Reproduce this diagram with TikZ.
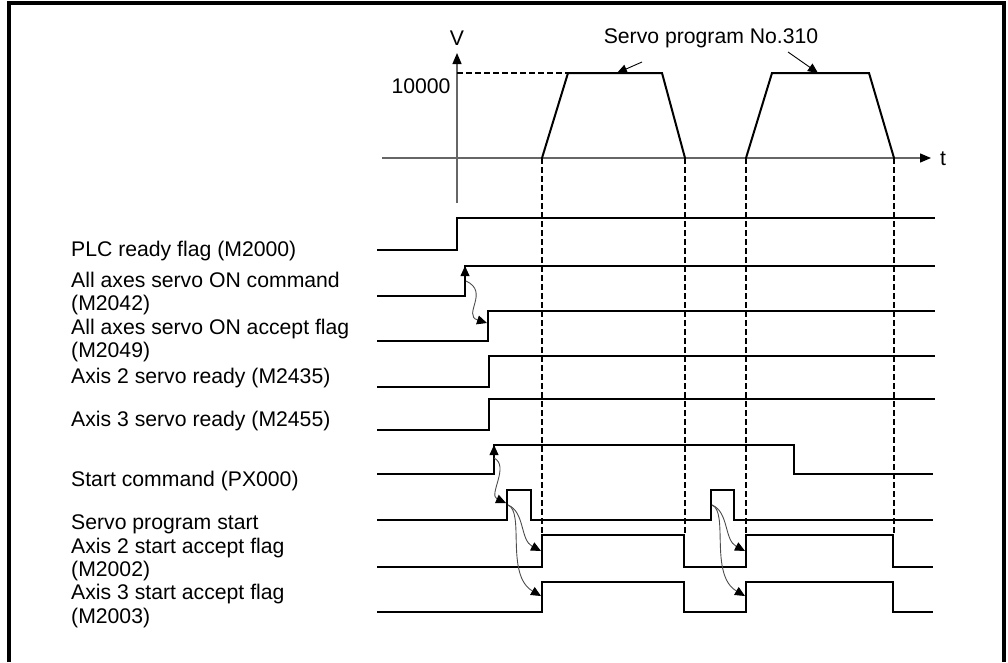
\documentclass[tikz,border=0pt]{standalone}
\usepackage{fontspec}
\setmainfont{Liberation Sans}
\usetikzlibrary{arrows.meta}
\begin{document}
\begin{tikzpicture}[x=1pt,y=-1pt,
  lbl/.style={anchor=base west, inner sep=0pt, font=\fontsize{21.2}{24}\selectfont},
  txt/.style={anchor=base, inner sep=0pt, font=\fontsize{21.2}{24}\selectfont},
  sig/.style={line width=2pt, line join=miter, line cap=butt},
  ax/.style={line width=1.3pt, black!60},
  guide/.style={line width=1.1pt, dash pattern=on 6pt off 3pt},
  profile/.style={line width=2pt, line join=miter},
  tipup/.style={line width=0.8pt, -{Triangle[length=10pt,width=9pt,color=black]}},
  cause/.style={line width=0.9pt, black!70, -{Triangle[length=10pt,width=9pt,color=black]}},
  pointer/.style={line width=0.9pt, -{Triangle[length=10pt,width=9pt]}},
  axarrow/.style={-{Triangle[length=11pt,width=9pt,color=black]}},
  frame/.style={line width=4pt, line join=miter}]
\useasboundingbox (0,0) rectangle (1008,662);
% frame (open at the bottom)
\draw[frame] (9,662) -- (9,3) -- (1004,3) -- (1004,662);

% axes
\coordinate (vbot) at (457,203);
\coordinate (vtop) at (457,53);
\coordinate (tleft) at (382,158);
\coordinate (tright) at (931,158);
\draw[ax,axarrow] (vbot) -- (vtop);
\draw[ax,axarrow] (tleft) -- (tright);
\node[txt] (vlab) at (457,45) {V};
\node[txt] (tlab) at (943,165) {t};
\node[txt] (vmax) at (421,93) {10000};

% speed profiles
\draw[guide] (457,73) -- (568,73);
\draw[profile] (542,158) -- (568,73) -- (662,73) -- (685,158);
\draw[profile] (746,158) -- (772,73) -- (869,73) -- (894,158);
\node[txt] (prog) at (711,43.5) {Servo program No.310};
\coordinate (p1s) at (642,62);
\coordinate (p1e) at (617,73);
\coordinate (p2s) at (788,52);
\coordinate (p2e) at (818,73);
\draw[pointer] (p1s) -- (p1e);
\draw[pointer] (p2s) -- (p2e);

% guide lines
\foreach \gx in {542,685,746,894} \draw[guide] (\gx,158) -- (\gx,535);

% labels
\node[lbl] (l1) at (71,256) {PLC ready flag (M2000)};
\node[lbl] (l2a) at (71,287) {All axes servo ON command};
\node[lbl] (l2b) at (71,310) {(M2042)};
\node[lbl] (l3a) at (71,334) {All axes servo ON accept flag};
\node[lbl] (l3b) at (71,357) {(M2049)};
\node[lbl] (l4) at (71,383) {Axis 2 servo ready (M2435)};
\node[lbl] (l5) at (71,426) {Axis 3 servo ready (M2455)};
\node[lbl] (l6) at (71,486) {Start command (PX000)};
\node[lbl] (l7) at (71,529) {Servo program start};
\node[lbl] (l8a) at (71,553) {Axis 2 start accept flag};
\node[lbl] (l8b) at (71,576) {(M2002)};
\node[lbl] (l9a) at (71,599) {Axis 3 start accept flag};
\node[lbl] (l9b) at (71,623) {(M2003)};

% signals
\draw[sig] (377,250) -- (457,250) -- (457,218) -- (935,218);
\draw[sig] (377,296) -- (465,296) -- (465,266) -- (935,266);
\draw[sig] (377,341) -- (488,341) -- (488,311) -- (935,311);
\draw[sig] (377,387) -- (489,387) -- (489,356) -- (935,356);
\draw[sig] (377,430) -- (489,430) -- (489,399) -- (935,399);
\draw[sig] (377,474) -- (494,474) -- (494,445) -- (794,445) -- (794,474) -- (933,474);
\draw[sig] (377,520) -- (507,520) -- (507,490) -- (531,490) -- (531,520) -- (711,520)
           -- (711,490) -- (734,490) -- (734,520) -- (933,520);
\draw[sig] (377,567) -- (542,567) -- (542,535) -- (684,535) -- (684,567) -- (746,567)
           -- (746,535) -- (893,535) -- (893,567) -- (933,567);
\draw[sig] (377,612) -- (542,612) -- (542,582) -- (684,582) -- (684,612) -- (746,612)
           -- (746,582) -- (893,582) -- (893,612) -- (933,612);

% cause arrows
\coordinate (sonb) at (465,284);
\coordinate (sont) at (465,266);
\coordinate (sons) at (466,281);
\coordinate (acce) at (487,323);
\draw[tipup] (sonb) -- (sont);
\draw[cause] (sons) .. controls (490,292) and (462,315) .. (acce);

\coordinate (stb) at (494,462);
\coordinate (stt) at (494,445);
\coordinate (sts) at (494,458);
\coordinate (pse) at (506,503);
\draw[tipup] (stb) -- (stt);
\draw[cause] (sts) .. controls (510,466) and (488,495) .. (pse);

\coordinate (q1) at (508,505);
\coordinate (a2e1) at (541,551);
\coordinate (a3e1) at (541,596);
\draw[cause] (q1) .. controls (525,512) and (520,540) .. (a2e1);
\draw[cause] (q1) .. controls (525,512) and (505,575) .. (a3e1);

\coordinate (q2) at (712,505);
\coordinate (a2e2) at (745,551);
\coordinate (a3e2) at (745,596);
\draw[cause] (q2) .. controls (729,512) and (724,540) .. (a2e2);
\draw[cause] (q2) .. controls (729,512) and (709,575) .. (a3e2);
\end{tikzpicture}
\end{document}
